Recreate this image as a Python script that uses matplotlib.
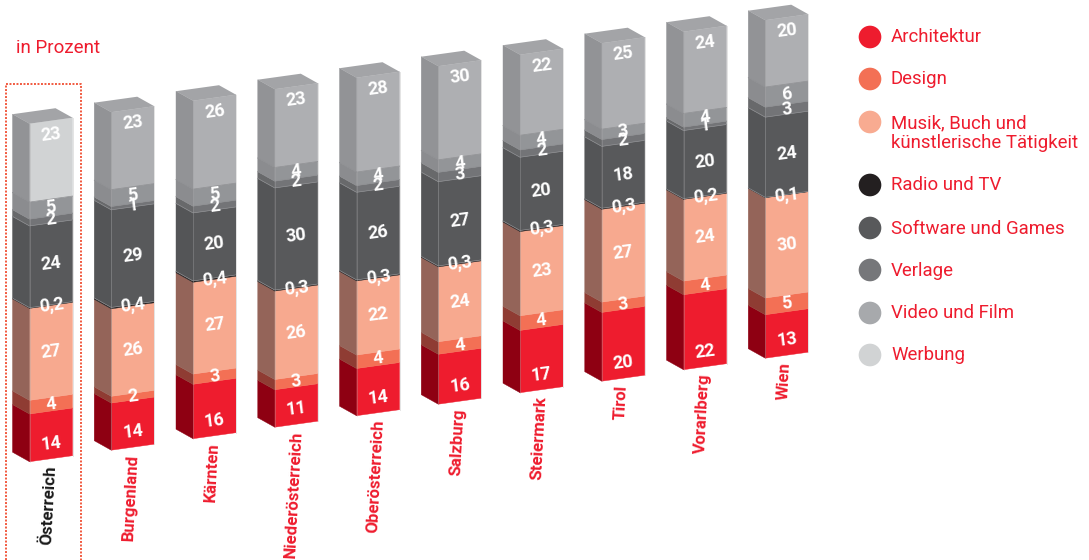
import numpy as np
import matplotlib
matplotlib.use('Agg')
import matplotlib.pyplot as plt

plt.rcParams['font.family'] = ['Roboto', 'DejaVu Sans']

# Bundeslaender, Anteile in Prozent
regions = ['Österreich', 'Burgenland', 'Kärnten', 'Niederösterreich', 'Oberösterreich',
           'Salzburg', 'Steiermark', 'Tirol', 'Vorarlberg', 'Wien']
architektur = [14, 14, 16, 11, 14, 16, 17, 20, 22, 13]
design = [4, 2, 3, 3, 4, 4, 4, 3, 4, 5]
musik = [27, 26, 27, 26, 22, 24, 23, 27, 24, 30]
radio = [0.2, 0.4, 0.4, 0.3, 0.3, 0.3, 0.3, 0.3, 0.2, 0.1]
software = [24, 29, 20, 30, 26, 27, 20, 18, 20, 24]
verlage = [2, 1, 2, 2, 2, 3, 2, 2, 1, 3]
video = [5, 5, 5, 4, 4, 4, 4, 3, 4, 6]
werbung = [23, 23, 26, 23, 28, 30, 22, 25, 24, 20]

series = [architektur, design, musik, radio, software, verlage, video, werbung]
legend_names = ['Architektur', 'Design', 'Musik, Buch und\nkünstlerische Tätigkeit', 'Radio und TV',
                'Software und Games', 'Verlage', 'Video und Film', 'Werbung']
legend_colors = ['#ee1c2e', '#f37055', '#f8ab91', '#231f20', '#58595b', '#76777a', '#a7a9ac', '#d1d3d4']
legend_y = [37, 79, 122, 185, 228, 270, 313, 355]

front_colors = ['#ee1c2e', '#f37055', '#f7a98f', '#231f20', '#58595b', '#737477', '#939598', '#aeafb2']
side_colors = ['#8e0012', '#8f3c33', '#946459', '#231f20', '#545557', '#68696b', '#8b8c8f', '#929396']
top_color = '#a3a4a7'

RED = '#ee1c2e'

# Geometrie der Saeulen (Pixel)
x0, y0 = 29.5, 461.7
step_x, step_y = 81.75, -11.5
front_w, front_rise = 43, 6
side_w, side_drop = 17, 9.5
total_h = 338

fig = plt.figure(figsize=(10.89, 5.6), dpi=100)
ax = fig.add_axes([0, 0, 1, 1])
ax.set_xlim(0, 1089)
ax.set_ylim(560, 0)
ax.axis('off')

vals = np.array(series, dtype=float)

for i, region in enumerate(regions):
    x = x0 + i * step_x
    y = y0 + i * step_y
    scale = total_h / vals[:, i].sum()
    y_top = y
    for s in range(len(series)):
        h = vals[s, i] * scale
        y_low, y_top = y_top, y_top - h
        fc = front_colors[s]
        if s == 7 and i == 0:
            fc = '#d1d3d4'
        # Vorderseite
        ax.fill([x, x + front_w, x + front_w, x],
                [y_low, y_low - front_rise, y_top - front_rise, y_top],
                color=fc, lw=0.3, zorder=2 + s)
        # Seite links
        ax.fill([x - side_w, x, x, x - side_w],
                [y_low - side_drop, y_low, y_top, y_top - side_drop],
                color=side_colors[s], lw=0.3, zorder=2 + s)
        if s > 3:
            ax.plot([x - side_w, x, x + front_w], [y_low - side_drop, y_low, y_low - front_rise],
                    color='#8d8e91', lw=0.5, zorder=3 + s)
        # Wert
        text = f'{vals[s, i]:g}'.replace('.', ',')
        yc = (y_low + y_top) / 2 - front_rise / 2
        if s == 0:
            yc = y - front_rise / 2 - 15
        elif s == 7:
            yc = y_top - front_rise / 2 + 14
        ax.text(x + front_w / 2, yc, text, color='white', fontsize=13, fontweight='bold',
                rotation=7, ha='center', va='center', zorder=30)
    # Deckel
    ax.fill([x, x + front_w, x + front_w - side_w, x - side_w],
            [y_top, y_top - front_rise, y_top - front_rise - side_drop, y_top - side_drop],
            color=top_color, lw=0, zorder=20)
    ax.plot([x, x], [y, y_top], color='#aaaaac', lw=0.4, alpha=0.6, zorder=21)
    ax.plot([x + front_w, x + front_w], [y - front_rise, y_top - front_rise], color='#e4e4e4',
            lw=0.7, zorder=21)
    # Bundesland
    ax.text(x + 19, y + 3.5, region, color='#1a1a1a' if i == 0 else RED, fontsize=12.2, fontweight='bold',
            rotation=87, ha='center', va='top', rotation_mode='default')

# Rahmen um Oesterreich
ax.plot([6, 6, 81, 81], [560, 84, 84, 560], color='#f15a40', lw=1.4, ls=(0, (1, 0.8)), zorder=1)

ax.text(16, 48, 'in Prozent', color=RED, fontsize=13.5, va='center', ha='left')

# Legende
ax.scatter([870] * len(legend_y), legend_y, s=266, c=legend_colors, linewidths=0, zorder=5)
for name, ly in zip(legend_names, legend_y):
    ax.text(891, ly + 0.5 + 10.5 * name.count('\n'), name, color=RED, fontsize=13.4, va='center', ha='left',
            linespacing=1.15)

fig.savefig('out.png', dpi=100)
